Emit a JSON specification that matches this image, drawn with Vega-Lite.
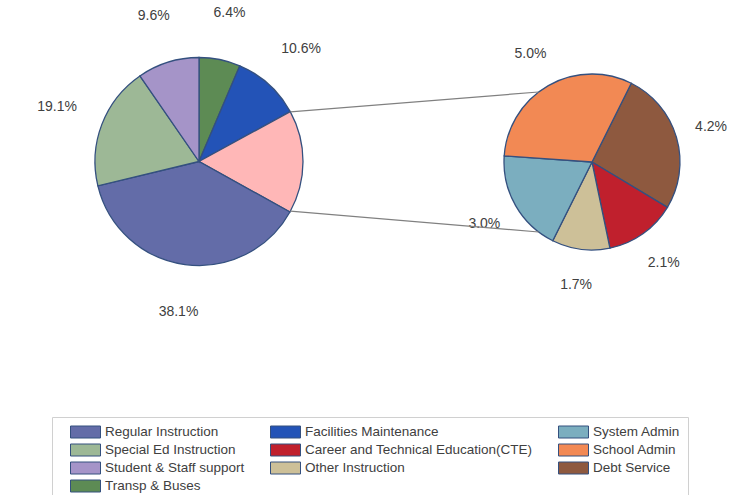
{
  "$schema": "https://vega.github.io/schema/vega-lite/v6.json",
  "width": 744,
  "height": 495,
  "padding": 0,
  "autosize": {"type": "none"},
  "background": "white",
  "config": {"view": {"stroke": null}, "scale": {"pointPadding": 0}},
  "layer": [
    {
      "data": {"values": [
        {"category": "Transp & Buses", "share": 0.064, "k": 1},
        {"category": "Facilities Maintenance", "share": 0.106, "k": 2},
        {"category": "Other", "share": 0.160, "k": 3},
        {"category": "Regular Instruction", "share": 0.381, "k": 4},
        {"category": "Special Ed Instruction", "share": 0.191, "k": 5},
        {"category": "Student & Staff support", "share": 0.096, "k": 6}
      ]},
      "encoding": {
        "theta": {"field": "share", "type": "quantitative", "stack": true, "scale": {"range": [0, 6.2832]}},
        "order": {"field": "k", "type": "quantitative"},
        "x": {"datum": "main", "type": "nominal", "scale": {"type": "point", "domain": ["main", "secondary"], "range": [199, 592], "padding": 0}, "axis": null},
        "y": {"datum": "main", "type": "nominal", "scale": {"type": "point", "domain": ["main", "secondary"], "range": [161.5, 162], "padding": 0}, "axis": null}
      },
      "layer": [
        {
          "mark": {"type": "arc", "outerRadius": 104, "stroke": "#34507f", "strokeWidth": 1.3},
          "encoding": {
            "color": {
              "field": "category", "type": "nominal",
              "scale": {
                "domain": ["Regular Instruction", "Facilities Maintenance", "System Admin", "Special Ed Instruction", "Career and Technical Education(CTE)", "School Admin", "Student & Staff support", "Other Instruction", "Debt Service", "Transp & Buses", "Other"],
                "range": ["#636CA8", "#2353B7", "#7BAEBF", "#9DB896", "#C0202D", "#F28954", "#A594C8", "#CDC098", "#8E593F", "#5D8B54", "#FFB7B7"]
              },
              "legend": {
                "orient": "none", "legendX": 52, "legendY": 417,
                "title": null, "columns": 3, "direction": "horizontal", "gridAlign": "each",
                "values": ["Regular Instruction", "Facilities Maintenance", "System Admin", "Special Ed Instruction", "Career and Technical Education(CTE)", "School Admin", "Student & Staff support", "Other Instruction", "Debt Service", "Transp & Buses"],
                "symbolType": "M-1,-0.8H3V0.8H-1Z", "symbolSize": 225,
                "symbolStrokeColor": "#34507f", "symbolStrokeWidth": 1, "symbolOpacity": 1,
                "symbolOffset": 11, "labelOffset": 19,
                "labelFont": "Liberation Sans", "labelFontSize": 13.5, "labelColor": "#404040", "labelLimit": 400,
                "columnPadding": 14, "rowPadding": 2, "padding": 7,
                "strokeColor": "#d0d0d0", "fillColor": "white"
              }
            }
          }
        },
        {
          "mark": {"type": "text", "radius": 152, "font": "Liberation Sans", "fontSize": 14, "fill": "#404040"},
          "encoding": {
            "text": {"condition": {"test": "datum.category === 'Other'", "value": ""}, "field": "share", "type": "quantitative", "format": ".1%"}
          }
        }
      ]
    },
    {
      "data": {"values": [
        {"category": "Debt Service", "share": 0.042, "k": 1},
        {"category": "Career and Technical Education(CTE)", "share": 0.021, "k": 2},
        {"category": "Other Instruction", "share": 0.017, "k": 3},
        {"category": "System Admin", "share": 0.030, "k": 4},
        {"category": "School Admin", "share": 0.050, "k": 5}
      ]},
      "encoding": {
        "theta": {"field": "share", "type": "quantitative", "stack": true, "scale": {"range": [0.4625, 6.7457]}},
        "order": {"field": "k", "type": "quantitative"},
        "x": {"datum": "secondary", "type": "nominal", "scale": {"type": "point", "domain": ["main", "secondary"], "range": [199, 592], "padding": 0}, "axis": null},
        "y": {"datum": "secondary", "type": "nominal", "scale": {"type": "point", "domain": ["main", "secondary"], "range": [161.5, 162], "padding": 0}, "axis": null}
      },
      "layer": [
        {
          "mark": {"type": "arc", "outerRadius": 88, "stroke": "#34507f", "strokeWidth": 1.3},
          "encoding": {"color": {"field": "category", "type": "nominal"}}
        },
        {
          "mark": {"type": "text", "radius": 124, "font": "Liberation Sans", "fontSize": 14, "fill": "#404040"},
          "encoding": {"text": {"field": "share", "type": "quantitative", "format": ".1%"}}
        }
      ]
    },
    {
      "data": {"values": [{"link": "upper"}]},
      "mark": {"type": "rule", "color": "#808080", "strokeWidth": 1.2, "xOffset": 91.4, "yOffset": -49.6, "x2Offset": -53.3, "y2Offset": -70},
      "encoding": {
        "x": {"datum": "main", "type": "nominal", "scale": {"type": "point", "domain": ["main", "secondary"], "range": [199, 592], "padding": 0}, "axis": null},
        "x2": {"datum": "secondary"},
        "y": {"datum": "main", "type": "nominal", "scale": {"type": "point", "domain": ["main", "secondary"], "range": [161.5, 162], "padding": 0}, "axis": null},
        "y2": {"datum": "secondary"}
      }
    },
    {
      "data": {"values": [{"link": "lower"}]},
      "mark": {"type": "rule", "color": "#808080", "strokeWidth": 1.2, "xOffset": 91.4, "yOffset": 49.6, "x2Offset": -53.3, "y2Offset": 70},
      "encoding": {
        "x": {"datum": "main", "type": "nominal", "scale": {"type": "point", "domain": ["main", "secondary"], "range": [199, 592], "padding": 0}, "axis": null},
        "x2": {"datum": "secondary"},
        "y": {"datum": "main", "type": "nominal", "scale": {"type": "point", "domain": ["main", "secondary"], "range": [161.5, 162], "padding": 0}, "axis": null},
        "y2": {"datum": "secondary"}
      }
    }
  ],
  "resolve": {"scale": {"theta": "independent"}}
}
